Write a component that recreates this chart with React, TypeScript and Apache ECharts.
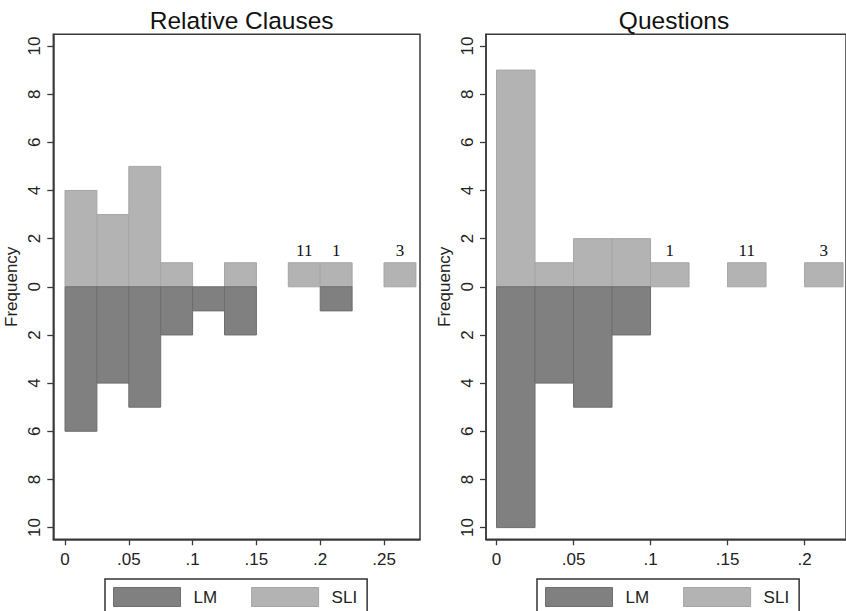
import React, { useEffect, useRef } from "react";
import * as echarts from "echarts";

// ---- Data ----
const BIN_WIDTH = 0.025;
const rcBinStarts = [0, 0.025, 0.05, 0.075, 0.1, 0.125, 0.15, 0.175, 0.2, 0.225, 0.25];
const rcSLI = [4, 3, 5, 1, 0, 1, 0, 1, 1, 0, 1];
const rcLM = [6, 4, 5, 2, 1, 2, 0, 0, 1, 0, 0];
const rcNoteX = [0.1875, 0.2125, 0.2625];
const rcNoteText = ["11", "1", "3"];

const qBinStarts = [0, 0.025, 0.05, 0.075, 0.1, 0.125, 0.15, 0.175, 0.2];
const qSLI = [9, 1, 2, 2, 1, 0, 1, 0, 1];
const qLM = [10, 4, 5, 2, 0, 0, 0, 0, 0];
const qNoteX = [0.1125, 0.1625, 0.2125];
const qNoteText = ["1", "11", "3"];

const titles = ["Relative Clauses", "Questions"];
const yTicks = [-10, -8, -6, -4, -2, 0, 2, 4, 6, 8, 10];
const rcXTicks = [0, 0.05, 0.1, 0.15, 0.2, 0.25];
const qXTicks = [0, 0.05, 0.1, 0.15, 0.2];
const NOTE_Y = 1.5;

const DARK = "#808080";
const LIGHT = "#b3b3b3";
const AXIS = "#3a3a3a";
const SANS = "Liberation Sans, Arial, sans-serif";

function binData(starts: number[], counts: number[], sign: number) {
  return starts.map((s, i) => [s, s + BIN_WIDTH, sign * counts[i]]);
}

const renderBin = (params: any, api: any) => {
  const x0 = api.value(0);
  const x1 = api.value(1);
  const v = api.value(2);
  if (!v) return null;
  const p0 = api.coord([x0, 0]);
  const p1 = api.coord([x1, v]);
  return {
    type: "rect",
    shape: {
      x: p0[0],
      y: Math.min(p0[1], p1[1]),
      width: p1[0] - p0[0],
      height: Math.abs(p1[1] - p0[1]),
    },
    style: api.style(),
  };
};

function noteRenderer(texts: string[]) {
  return (params: any, api: any) => {
    const p = api.coord([api.value(0), api.value(1)]);
    return {
      type: "text",
      x: p[0],
      y: p[1],
      style: {
        text: texts[params.dataIndex],
        font: "17px 'Liberation Serif', 'Times New Roman', serif",
        fill: "#111",
        align: "center",
        verticalAlign: "middle",
      },
    };
  };
}

function xFmt(v: number) {
  if (v === 0) return "0";
  return String(v).replace(/^0/, "");
}

export default function App() {
  const ref = useRef<HTMLDivElement>(null);
  useEffect(() => {
    if (!ref.current) return;
    const chart = echarts.init(ref.current, undefined, { renderer: "svg" });

    const grids = [
      { left: 53.3, top: 34.3, width: 366.7, height: 505 },
      { left: 486, top: 34.3, width: 366, height: 505 },
    ];

    const makeX = (idx: number, min: number, max: number, ticks: number[]) => ({
      type: "value",
      gridIndex: idx,
      min,
      max,
      axisLine: { show: true, onZero: false, lineStyle: { color: AXIS, width: 1.5 } },
      axisTick: { show: true, length: 6, inside: false, customValues: ticks, lineStyle: { color: AXIS, width: 1.3 } },
      axisLabel: {
        customValues: ticks,
        formatter: xFmt,
        fontSize: 17,
        color: "#222",
        fontFamily: SANS,
        margin: 12,
      },
      splitLine: { show: false },
    });

    const makeY = (idx: number) => ({
      type: "value",
      gridIndex: idx,
      min: -10.486,
      max: 10.486,
      name: "Frequency",
      nameLocation: "middle",
      nameRotate: 90,
      nameGap: 33,
      nameTextStyle: { fontSize: 17, color: "#222", fontFamily: SANS },
      axisLine: { show: true, onZero: false, lineStyle: { color: AXIS, width: 1.5 } },
      axisTick: { show: true, length: 6, customValues: yTicks, lineStyle: { color: AXIS, width: 1.3 } },
      axisLabel: {
        customValues: yTicks,
        formatter: (v: number) => String(Math.abs(v)),
        rotate: 90,
        fontSize: 17,
        color: "#222",
        fontFamily: SANS,
        margin: 10,
      },
      splitLine: { show: false },
    });

    const darkStyle = { color: DARK, borderColor: "#6e6e6e", borderWidth: 1 };
    const lightStyle = { color: LIGHT, borderColor: "#a6a6a6", borderWidth: 1 };

    const legendCommon = {
      orient: "horizontal",
      top: 579,
      itemWidth: 67,
      itemHeight: 19,
      itemGap: 34,
      icon: "rect",
      borderColor: "#333",
      borderWidth: 1.5,
      padding: [8, 10, 8, 8],
      selectedMode: false,
      textStyle: { fontSize: 17, color: "#222", fontFamily: SANS, padding: [0, 0, 0, 8] },
      data: [
        { name: "LM", itemStyle: darkStyle },
        { name: "SLI", itemStyle: lightStyle },
      ],
    };

    chart.setOption({
      animation: false,
      backgroundColor: "#ffffff",
      title: [
        {
          text: titles[0],
          left: 236.7,
          top: 3,
          textAlign: "center",
          textStyle: { fontSize: 24.5, fontWeight: "normal", color: "#111", fontFamily: SANS },
        },
        {
          text: titles[1],
          left: 669,
          top: 3,
          textAlign: "center",
          textStyle: { fontSize: 24.5, fontWeight: "normal", color: "#111", fontFamily: SANS },
        },
      ],
      legend: [
        { ...legendCommon, left: 105 },
        { ...legendCommon, left: 537 },
      ],
      grid: grids.map((g) => ({
        ...g,
        show: true,
        borderColor: AXIS,
        borderWidth: 1.5,
        backgroundColor: "#fff",
      })),
      xAxis: [makeX(0, -0.00917, 0.2782, rcXTicks), makeX(1, -0.00683, 0.2269, qXTicks)],
      yAxis: [makeY(0), makeY(1)],
      series: [
        {
          name: "SLI",
          type: "custom",
          xAxisIndex: 0,
          yAxisIndex: 0,
          renderItem: renderBin,
          itemStyle: lightStyle,
          encode: { x: [0, 1], y: 2 },
          data: binData(rcBinStarts, rcSLI, 1),
          clip: true,
        },
        {
          name: "LM",
          type: "custom",
          xAxisIndex: 0,
          yAxisIndex: 0,
          renderItem: renderBin,
          itemStyle: darkStyle,
          encode: { x: [0, 1], y: 2 },
          data: binData(rcBinStarts, rcLM, -1),
          clip: true,
        },
        {
          name: "notes-rc",
          type: "custom",
          xAxisIndex: 0,
          yAxisIndex: 0,
          renderItem: noteRenderer(rcNoteText),
          data: rcNoteX.map((x) => [x, NOTE_Y]),
        },
        {
          name: "SLI",
          type: "custom",
          xAxisIndex: 1,
          yAxisIndex: 1,
          renderItem: renderBin,
          itemStyle: lightStyle,
          encode: { x: [0, 1], y: 2 },
          data: binData(qBinStarts, qSLI, 1),
          clip: true,
        },
        {
          name: "LM",
          type: "custom",
          xAxisIndex: 1,
          yAxisIndex: 1,
          renderItem: renderBin,
          itemStyle: darkStyle,
          encode: { x: [0, 1], y: 2 },
          data: binData(qBinStarts, qLM, -1),
          clip: true,
        },
        {
          name: "notes-q",
          type: "custom",
          xAxisIndex: 1,
          yAxisIndex: 1,
          renderItem: noteRenderer(qNoteText),
          data: qNoteX.map((x) => [x, NOTE_Y]),
        },
      ],
    });
    return () => chart.dispose();
  }, []);

  return <div ref={ref} style={{ width: 846, height: 611, position: "fixed", left: 0, top: 0 }} />;
}
